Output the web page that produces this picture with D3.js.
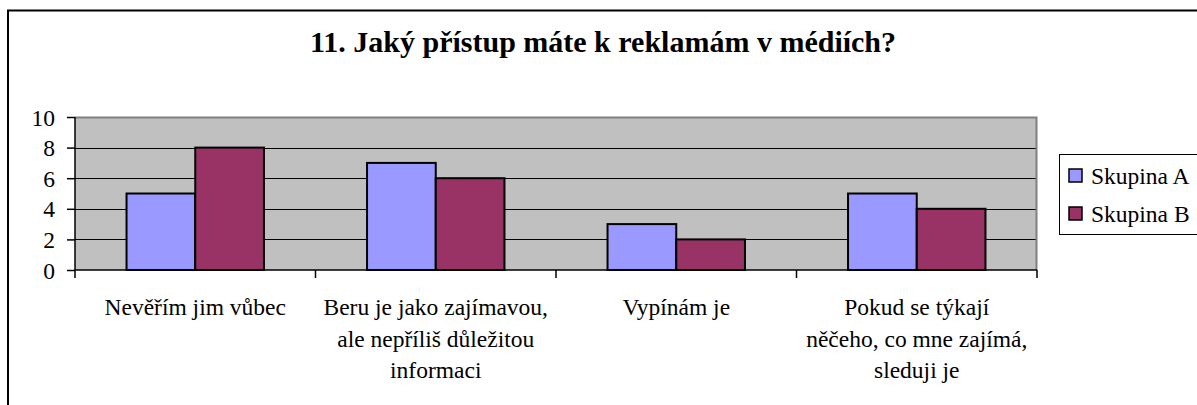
<!DOCTYPE html>
<html><head><meta charset="utf-8">
<script src="https://cdn.jsdelivr.net/npm/d3@7"></script>
</head><body style="margin:0;background:#fff">
<script>
const categories = [
  ["Nevěřím jim vůbec"],
  ["Beru je jako zajímavou,", "ale nepříliš důležitou", "informaci"],
  ["Vypínám je"],
  ["Pokud se týkají", "něčeho, co mne zajímá,", "sleduji je"]
];
const seriesNames = ["Skupina A", "Skupina B"];
const seriesA = [5, 7, 3, 5];
const seriesB = [8, 6, 2, 4];
const yTicks = [0, 2, 4, 6, 8, 10];
const colors = ["#9999FF", "#993366"];
const title = "11. Jaký přístup máte k reklamám v médiích?";

const FONT = "Liberation Serif";
const FS = 23.5;
const W = 1197, H = 405;
const svg = d3.select("body").append("svg").attr("width", W).attr("height", H)
  .attr("font-family", FONT).style("display", "block");
svg.append("rect").attr("width", W).attr("height", H).attr("fill", "#fff");
svg.append("path").attr("d", `M8,${H} V10.5 H${W}`).attr("fill", "none").attr("stroke", "#000").attr("stroke-width", 2);

const L = 75, R = 1037, T = 117, B = 270;
const x = d3.scaleBand().domain(d3.range(categories.length)).range([L, R]).padding(0);
const y = d3.scaleLinear().domain([0, 10]).range([B, T]);

svg.append("rect").attr("x", L).attr("y", T).attr("width", R - L).attr("height", B - T).attr("fill", "#C0C0C0");
svg.append("g").selectAll("line").data(yTicks.filter(d => d > 0 && d < 10)).join("line")
  .attr("x1", L).attr("x2", R).attr("y1", d => Math.round(y(d)) + 0.5).attr("y2", d => Math.round(y(d)) + 0.5)
  .attr("stroke", "#000").attr("stroke-width", 1);
svg.append("path").attr("d", `M${L},${T + 0.5} H${R - 0.5} V${B}`).attr("fill", "none").attr("stroke", "#808080").attr("stroke-width", 2);

const step = x.bandwidth();
const bw = step / 3.5;
[seriesA, seriesB].forEach((s, si) => {
  svg.append("g").selectAll("rect").data(s).join("rect")
    .attr("x", (d, i) => x(i) + step * 0.75 / 3.5 + si * bw)
    .attr("y", d => y(d))
    .attr("width", bw)
    .attr("height", d => y(0) - y(d))
    .attr("fill", colors[si]).attr("stroke", "#000").attr("stroke-width", 2);
});

const yAxis = d3.axisLeft(y).tickValues(yTicks).tickSize(8).tickPadding(12).tickFormat(d3.format("d"));
const ya = svg.append("g").attr("transform", `translate(${L},0)`).call(yAxis);
ya.attr("font-family", FONT).attr("font-size", FS);
ya.select(".domain").attr("stroke", "#000").attr("stroke-width", 1.5).attr("d", `M0,${T}V${B}`);
ya.selectAll(".tick line").attr("stroke", "#000").attr("stroke-width", 1.5);
ya.selectAll(".tick text").attr("fill", "#000").attr("dy", "0.34em");

svg.append("line").attr("x1", L).attr("x2", R).attr("y1", B).attr("y2", B).attr("stroke", "#000").attr("stroke-width", 1.5);
const bounds = d3.range(categories.length + 1).map(i => L + i * step);
svg.append("g").selectAll("line").data(bounds).join("line")
  .attr("x1", d => d).attr("x2", d => d).attr("y1", B).attr("y2", B + 8)
  .attr("stroke", "#000").attr("stroke-width", 1.5);
const cl = svg.append("g").attr("font-family", FONT).attr("font-size", FS)
  .selectAll("text").data(categories).join("text")
  .attr("text-anchor", "middle").attr("fill", "#000")
  .attr("x", (d, i) => x(i) + step / 2).attr("y", 315);
cl.selectAll("tspan").data(d => d).join("tspan")
  .attr("x", function () { return this.parentNode.getAttribute("x"); })
  .attr("dy", (d, j) => j === 0 ? 0 : 31.5).text(d => d);

svg.append("text").attr("x", 603).attr("y", 52).attr("text-anchor", "middle")
  .attr("font-family", FONT).attr("font-size", 30).attr("font-weight", "bold").attr("fill", "#000").text(title);

const lg = svg.append("g").attr("font-family", FONT).attr("font-size", FS);
lg.append("rect").attr("x", 1059.5).attr("y", 154.5).attr("width", 150).attr("height", 80)
  .attr("fill", "#fff").attr("stroke", "#000").attr("stroke-width", 1);
seriesNames.forEach((n, i) => {
  lg.append("rect").attr("x", 1069).attr("y", 169 + i * 38).attr("width", 13).attr("height", 13)
    .attr("fill", colors[i]).attr("stroke", "#000").attr("stroke-width", 1.5);
  lg.append("text").attr("x", 1091).attr("y", 184 + i * 38).attr("fill", "#000").text(n);
});
</script>
</body></html>
